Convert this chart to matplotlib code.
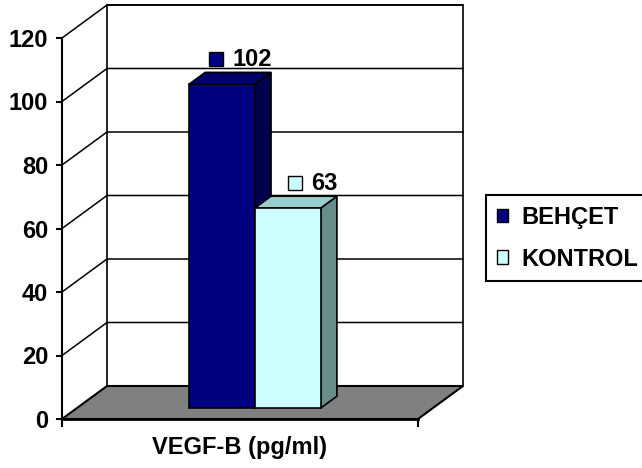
import matplotlib
matplotlib.use("Agg")
import matplotlib.pyplot as plt
from matplotlib.patches import Polygon, Patch
from matplotlib.transforms import offset_copy

categories = ["VEGF-B (pg/ml)"]
series = ["BEHÇET", "KONTROL"]
values = [102, 63]
y_ticks = [0, 20, 40, 60, 80, 100, 120]

front_colors = ["#000080", "#CCFFFF"]
top_colors = ["#00006A", "#99CCCC"]
side_colors = ["#000050", "#668C8C"]

FS = 17
plt.rcParams["font.family"] = ["Liberation Sans", "DejaVu Sans"]
plt.rcParams["font.weight"] = "bold"
plt.rcParams["font.size"] = FS

fig = plt.figure(figsize=(6.42, 4.68), dpi=100)
ax = fig.add_axes([62 / 642, 49 / 468, 356 / 642, 381 / 468])
ax.set_xlim(0, 1)
ax.set_ylim(0, 120)
ax.patch.set_visible(False)

# depth of the fake 3d box, in data units
dx, dy = 45 / 356, 33 * 120 / 381

# back wall
ax.add_patch(Polygon([(dx, dy), (1 + dx, dy), (1 + dx, 120 + dy), (dx, 120 + dy)],
                     closed=True, fc="white", ec="black", lw=1.2, clip_on=False, zorder=1))
for v in y_ticks[1:]:
    ax.plot([0, dx, 1 + dx], [v, v + dy, v + dy], color="black", lw=1.1,
            clip_on=False, zorder=2)

# floor
ax.add_patch(Polygon([(0, 0), (1, 0), (1 + dx, dy), (dx, dy)], closed=True,
                     fc="#808080", ec="black", lw=1.5, clip_on=False, zorder=2))

# bars
w = 0.185
f0, fd = 0.33, 0.36
for i, v in enumerate(values):
    x0 = 0.5 - w + i * w + f0 * dx
    y0 = f0 * dy
    ddx, ddy = fd * dx, fd * dy
    ax.add_patch(Polygon([(x0 + w, y0), (x0 + w + ddx, y0 + ddy), (x0 + w + ddx, y0 + v + ddy),
                          (x0 + w, y0 + v)], closed=True, fc=side_colors[i], ec="black",
                         lw=1.2, clip_on=False, zorder=3))
    ax.add_patch(Polygon([(x0, y0 + v), (x0 + w, y0 + v), (x0 + w + ddx, y0 + v + ddy),
                          (x0 + ddx, y0 + v + ddy)], closed=True, fc=top_colors[i], ec="black",
                         lw=1.2, clip_on=False, zorder=3))
    ax.add_patch(Polygon([(x0, y0), (x0 + w, y0), (x0 + w, y0 + v), (x0, y0 + v)], closed=True,
                         fc=front_colors[i], ec="black", lw=1.2, clip_on=False, zorder=3))

    # data label with legend key, centred over the bar top
    ax_x = x0 + w / 2 + ddx
    ax_y = y0 + v + ddy
    label = str(v)
    key_off = 18.5 - 13.5 * len(label)
    key_tr = offset_copy(ax.transData, fig=fig, x=key_off, y=13, units="dots")
    ax.plot(ax_x, ax_y, marker="s", ms=10.5, mfc=front_colors[i], mec="black", mew=1,
            transform=key_tr, clip_on=False, zorder=5)
    txt_tr = offset_copy(ax.transData, fig=fig, x=key_off + 16, y=13, units="dots")
    ax.text(ax_x, ax_y, label, transform=txt_tr, ha="left", va="center",
            fontsize=FS, fontweight="bold", zorder=5)

# axes
for s in ["top", "right"]:
    ax.spines[s].set_visible(False)
ax.spines["left"].set_linewidth(1.5)
ax.spines["bottom"].set_linewidth(2)
ax.spines["left"].set_zorder(4)
ax.spines["bottom"].set_zorder(4)
ax.set_yticks(y_ticks)
ax.tick_params(axis="y", direction="out", length=4, width=1.5, pad=6, labelsize=FS)
ax.set_xticks([0, 1], ["", ""])
ax.tick_params(axis="x", which="major", direction="out", length=6, width=1.5)
ax.set_xticks([0.5], categories, minor=True)
ax.tick_params(axis="x", which="minor", length=0, pad=12, labelsize=FS)
for t in ax.get_yticklabels() + ax.get_xticklabels(minor=True):
    t.set_fontweight("bold")

handles = [Patch(fc=front_colors[i], ec="black", lw=1, label=series[i]) for i in range(2)]
leg = fig.legend(handles=handles, loc="upper left", bbox_to_anchor=(486 / 642, 1 - 195 / 468),
                 frameon=True, fancybox=False, framealpha=1, edgecolor="black",
                 handlelength=0.5, handleheight=0.5, handletextpad=0.55, labelspacing=0.8,
                 borderpad=0.45, borderaxespad=0, prop={"weight": "bold", "size": FS})
leg.get_frame().set_linewidth(1.5)

fig.savefig("out.png", dpi=100, facecolor="white")
